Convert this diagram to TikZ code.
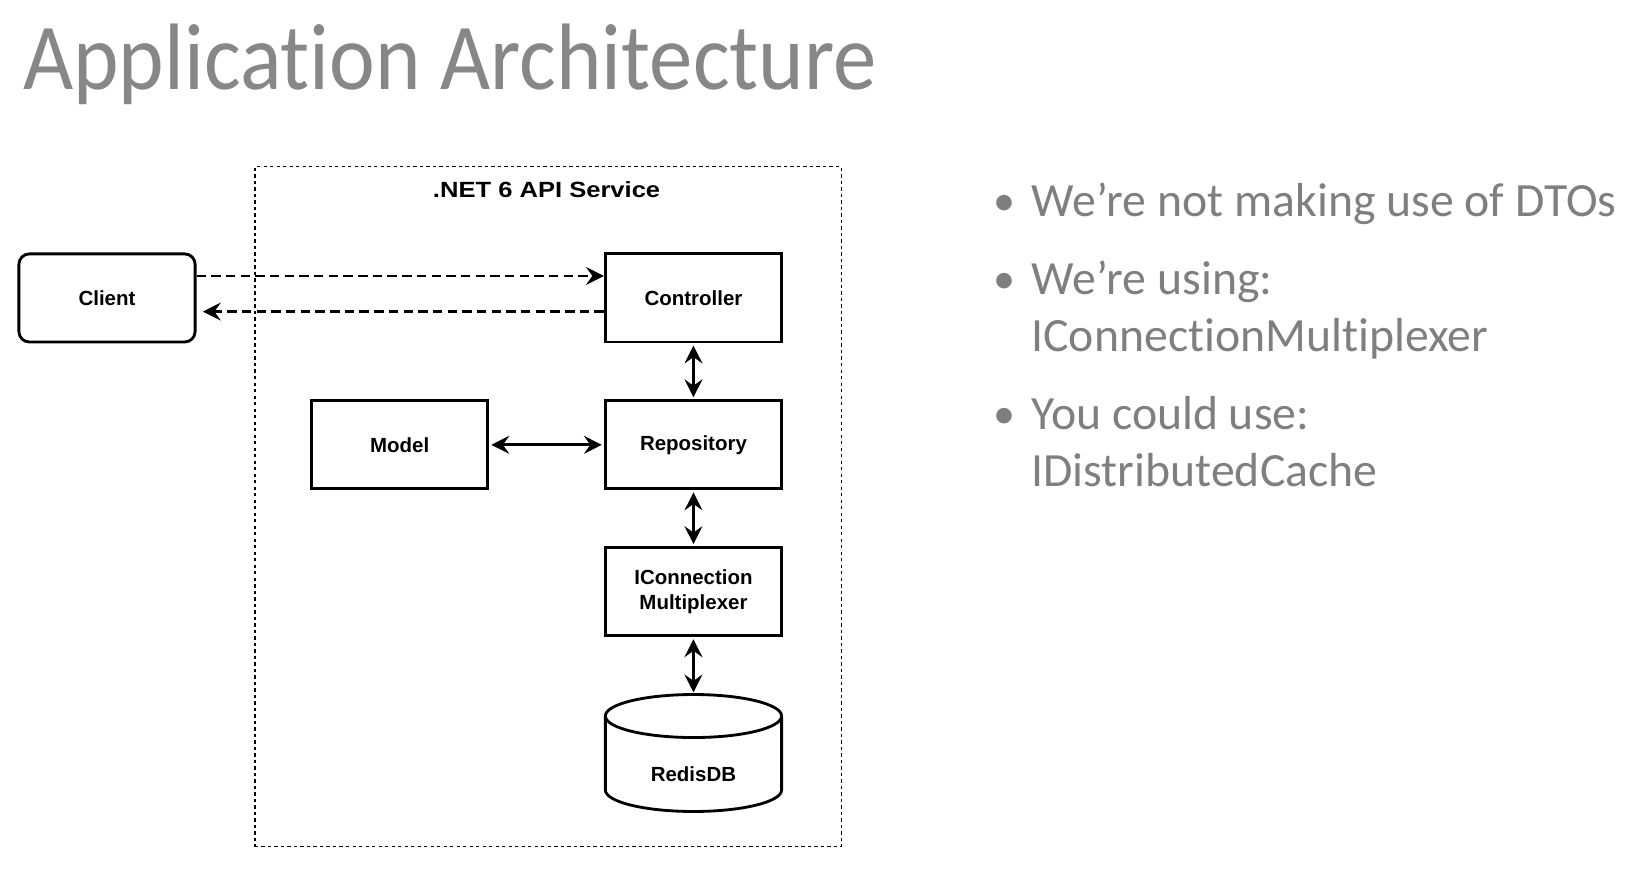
\documentclass[tikz,border=0pt]{standalone}
\usepackage{fontspec}
\usepackage{graphicx}
\setmainfont{Carlito}[Ligatures=NoCommon]
\newfontfamily\diafont{Liberation Sans}
\usetikzlibrary{arrows.meta}
\definecolor{titlegray}{HTML}{878787}
\definecolor{textgray}{HTML}{7F7F7F}
\begin{document}
\begin{tikzpicture}[x=1pt,y=-1pt,
  diatext/.style={font=\diafont\bfseries\fontsize{19.5}{23}\selectfont, align=center},
  box/.style={draw, line width=2.7pt, minimum width=168pt, minimum height=84pt, inner sep=0pt, diatext},
  tip/.style={-{Stealth[length=17pt,width=17pt,inset=6pt]}},
  both/.style={line width=2.7pt, shorten <=2pt, shorten >=2pt, {Stealth[length=17pt,width=17pt,inset=6pt]}-{Stealth[length=17pt,width=17pt,inset=6pt]}},
  dashlink/.style={line width=2.7pt, dash pattern=on 9pt off 5pt, tip},
  bullettext/.style={anchor=base west, inner sep=0pt, text=textgray, font=\fontsize{45.5}{54}\selectfont},
  bulletdot/.style={anchor=base, inner sep=0pt, text=textgray, font=\fontsize{42}{54}\selectfont}
]
\path[use as bounding box] (0,0) rectangle (1568,845.5);

% title
\node[anchor=base west, inner sep=0pt, text=titlegray, font=\fontsize{90}{100}\selectfont] (title) at (22,85) {\scalebox{0.918}[1]{Application Architecture}};

% container
\node[draw, line width=1.3pt, dash pattern=on 3.2pt off 3pt, minimum width=559pt, minimum height=648pt, inner sep=0pt] (svc) at (522.5,483) {};
\node[font=\diafont\bfseries\fontsize{21}{25}\selectfont, inner sep=0pt] (svclabel) at (521,181) {\scalebox{1.16}[1]{.NET 6 API Service}};

% boxes
\node[box, rounded corners=10pt] (client) at (102,284) {Client};
\node[box] (ctrl) at (661,284) {Controller};
\node[box] (model) at (381,424) {Model};
\node[box] (repo) at (661,424) {Repository};
\node[box] (iconn) at (661,564) {IConnection\\Multiplexer};

% cylinder
\coordinate (redistop) at (661,662);
\draw[line width=2.7pt, fill=white] (577,682.5) -- (577,753) arc[start angle=180, end angle=360, x radius=84pt, y radius=20.5pt] -- (745,682.5);
\draw[line width=2.7pt] (661,682.5) ellipse[x radius=84pt, y radius=20.5pt];
\node[diatext, inner sep=0pt] (redis) at (661,738) {RedisDB};

% connectors
\draw[dashlink] ([yshift=21pt]client.east) -- ([yshift=21pt]ctrl.west);
\draw[dashlink, shorten >=6pt] ([yshift=-13pt]ctrl.west) -- ([yshift=-13pt]client.east);
\draw[both] (ctrl.south) -- (repo.north);
\draw[both] (model.east) -- (repo.west);
\draw[both] (repo.south) -- (iconn.north);
\draw[both] (iconn.south) -- (redistop);

% bullets
\node[bulletdot] (b1) at (957,205) {•};
\node[bullettext] (t1) at (983,206) {We’re not making use of DTOs};
\node[bulletdot] (b2) at (957,280) {•};
\node[bullettext] (t2) at (983,281) {We’re using:};
\node[bullettext] (t2b) at (983,335) {IConnectionMultiplexer};
\node[bulletdot] (b3) at (957,408) {•};
\node[bullettext] (t3) at (983,409) {You could use:};
\node[bullettext] (t3b) at (983,464) {IDistributedCache};
\end{tikzpicture}
\end{document}
